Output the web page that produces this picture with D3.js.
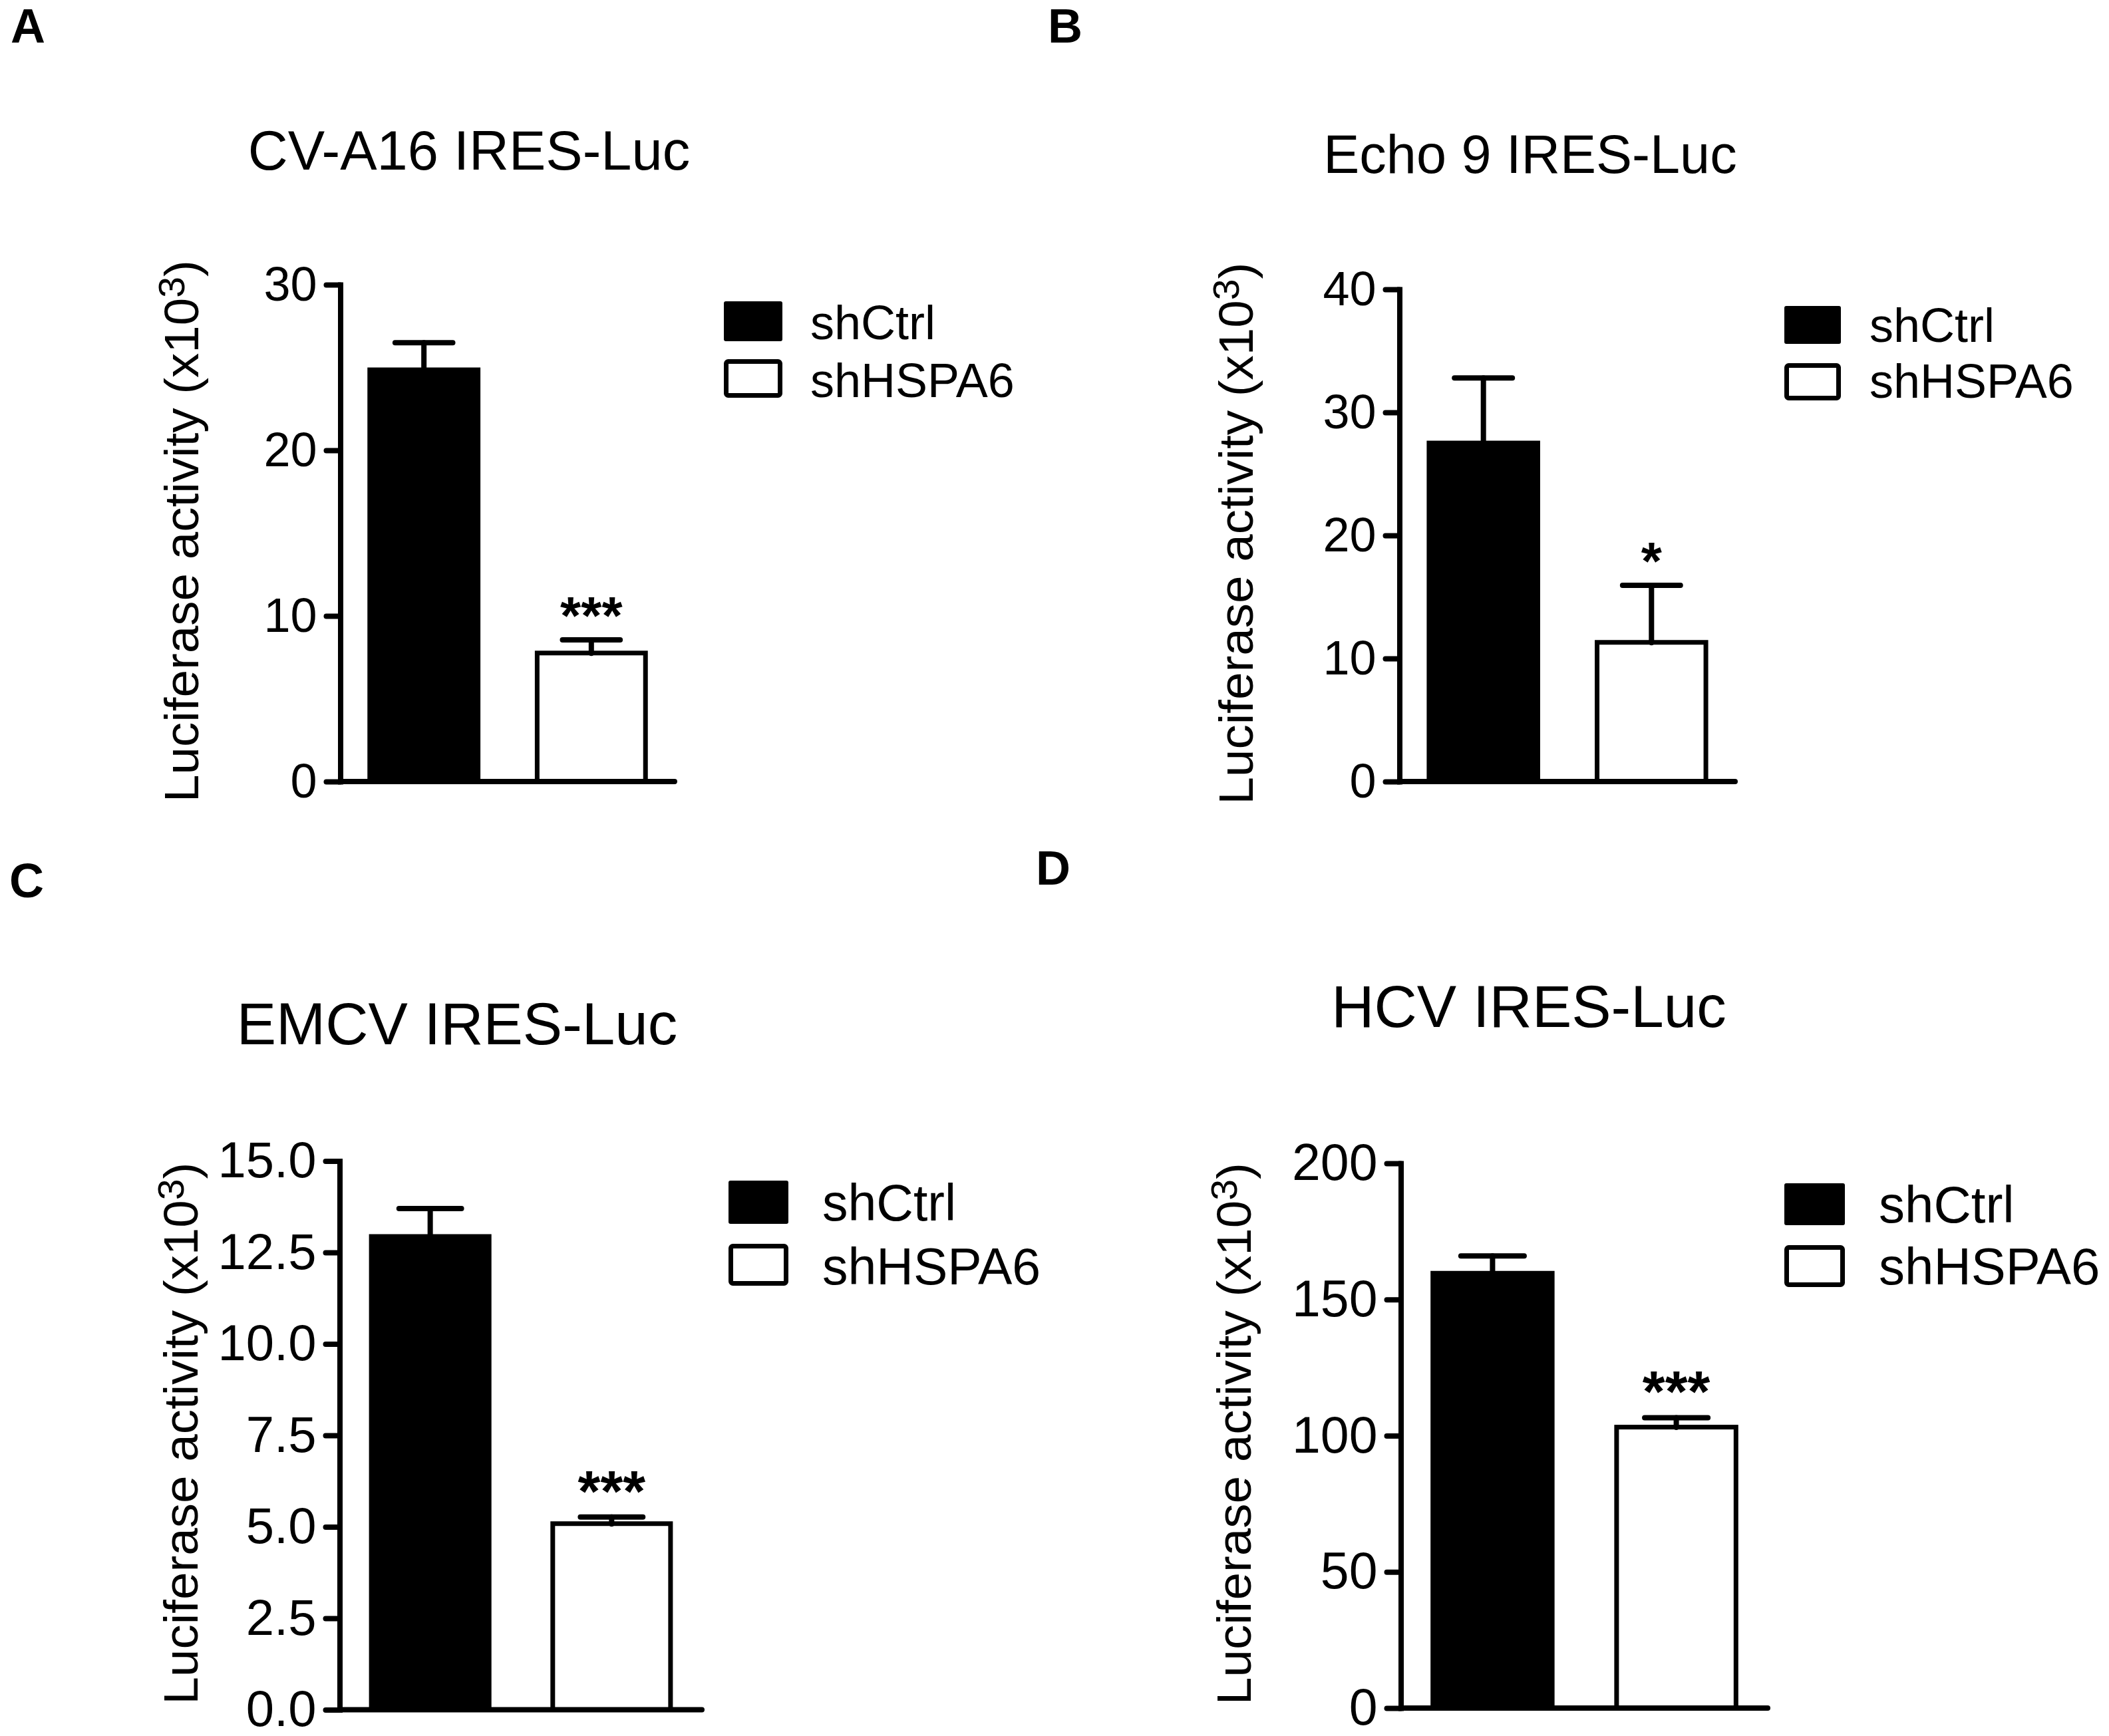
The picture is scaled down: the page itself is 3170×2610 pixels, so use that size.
<!DOCTYPE html>
<html>
<head>
<meta charset="utf-8">
<script src="https://cdn.jsdelivr.net/npm/d3@7"></script>
<style>
body { margin: 0; background: #fff; }
text { font-family: "Liberation Sans", Arial, Helvetica, sans-serif; fill: #000; }
</style>
</head>
<body>
<div id="figure"></div>
<script>
// Data
let groups = ["shCtrl", "shHSPA6"];
let panelLetters = ["A", "B", "C", "D"];
let panelTitles = ["CV-A16 IRES-Luc", "Echo 9 IRES-Luc", "EMCV IRES-Luc", "HCV IRES-Luc"];
let meanValues = [[25.0, 7.9], [27.7, 11.5], [13.0, 5.15], [160.5, 104.0]];
let semValues = [[1.5, 0.65], [5.1, 4.45], [0.7, 0.12], [5.5, 2.6]];
let yTickValues = [
    [0, 10, 20, 30],
    [0, 10, 20, 30, 40],
    [0, 2.5, 5, 7.5, 10, 12.5, 15],
    [0, 50, 100, 150, 200]
];
let tickFormats = ["d", "d", ".1f", "d"];
let significance = ["***", "*", "***", "***"];
let yLabelText = "Luciferase activity (x10";

// Page geometry for each panel
let layout = [
    { letterX: 16, letterY: 64, titleX: 705, titleY: 255, titleSize: 83,
      axisX: 512, xEnd: 1014, yTop: 428, yBottom: 1175, tickSize: 72, labelX: 298,
      legendX: 1088, legendW: 88, legendY: [453, 540], legendH: [60, 58],
      legendTextX: 1218, legendBase: [510, 597], legendSize: 72, starSize: 80 },
    { letterX: 1575, letterY: 64, titleX: 2300, titleY: 260, titleSize: 81,
      axisX: 2104, xEnd: 2608, yTop: 435, yBottom: 1175, tickSize: 72, labelX: 1883,
      legendX: 2682, legendW: 85, legendY: [460, 546], legendH: [57, 56],
      legendTextX: 2810, legendBase: [514, 598], legendSize: 72, starSize: 80 },
    { letterX: 14, letterY: 1349, titleX: 687, titleY: 1570, titleSize: 89,
      axisX: 511, xEnd: 1055, yTop: 1745.5, yBottom: 2570.5, tickSize: 76, labelX: 297,
      legendX: 1095, legendW: 90, legendY: [1775, 1870], legendH: [65, 63],
      legendTextX: 1236, legendBase: [1835, 1931], legendSize: 77, starSize: 87 },
    { letterX: 1557, letterY: 1330, titleX: 2298, titleY: 1544, titleSize: 89,
      axisX: 2106, xEnd: 2657, yTop: 1749, yBottom: 2568, tickSize: 77, labelX: 1880,
      legendX: 2682, legendW: 91, legendY: [1779, 1872], legendH: [63, 63],
      legendTextX: 2824, legendBase: [1838, 1931], legendSize: 78, starSize: 87 }
];

let svgWidth = 3170;
let svgHeight = 2610;
let lineWidth = 8;
let labelLength = 815;

let svg = d3.select("#figure")
    .append("svg")
    .attr("width", svgWidth)
    .attr("height", svgHeight);

svg.append("rect")
    .attr("width", svgWidth)
    .attr("height", svgHeight)
    .attr("fill", "#fff");

layout.forEach((p, i) => {
    let g = svg.append("g");

    // panel letter
    g.append("text")
        .attr("x", p.letterX)
        .attr("y", p.letterY)
        .style("font-size", "72px")
        .style("font-weight", "bold")
        .text(panelLetters[i]);

    // title
    g.append("text")
        .attr("x", p.titleX)
        .attr("y", p.titleY)
        .attr("text-anchor", "middle")
        .style("font-size", p.titleSize + "px")
        .text(panelTitles[i]);

    // scales
    let ticks = yTickValues[i];
    let yScale = d3.scaleLinear()
        .domain([0, d3.max(ticks)])
        .range([p.yBottom, p.yTop]);

    let xScale = d3.scaleBand()
        .domain(groups)
        .range([p.axisX, p.xEnd])
        .paddingInner(0.325)
        .paddingOuter(0.16);

    // bars
    let barData = groups.map((name, j) => ({ name: name, mean: meanValues[i][j], sem: semValues[i][j], idx: j }));
    let inset = d => d.idx === 1 ? 3.5 : 0;

    g.selectAll("rect.bar")
        .data(barData)
        .join("rect")
        .attr("class", "bar")
        .attr("x", d => xScale(d.name) + inset(d))
        .attr("width", d => xScale.bandwidth() - 2 * inset(d))
        .attr("y", d => yScale(d.mean) + inset(d))
        .attr("height", d => p.yBottom - yScale(d.mean) - inset(d))
        .attr("fill", d => d.idx === 0 ? "#000" : "#fff")
        .attr("stroke", d => d.idx === 0 ? "none" : "#000")
        .attr("stroke-width", 7);

    // error bars (upper only)
    let capHalf = xScale.bandwidth() * 0.255;
    let errGroup = g.append("g")
        .attr("stroke", "#000")
        .attr("stroke-width", lineWidth)
        .attr("stroke-linecap", "round");

    errGroup.selectAll("line.stem")
        .data(barData)
        .join("line")
        .attr("class", "stem")
        .attr("x1", d => xScale(d.name) + xScale.bandwidth() / 2)
        .attr("x2", d => xScale(d.name) + xScale.bandwidth() / 2)
        .attr("y1", d => yScale(d.mean) + 4)
        .attr("y2", d => yScale(d.mean + d.sem));

    errGroup.selectAll("line.cap")
        .data(barData)
        .join("line")
        .attr("class", "cap")
        .attr("x1", d => xScale(d.name) + xScale.bandwidth() / 2 - capHalf)
        .attr("x2", d => xScale(d.name) + xScale.bandwidth() / 2 + capHalf)
        .attr("y1", d => yScale(d.mean + d.sem))
        .attr("y2", d => yScale(d.mean + d.sem));

    // significance stars over the knockdown bar
    let kd = barData[1];
    g.append("text")
        .attr("x", xScale(kd.name) + xScale.bandwidth() / 2)
        .attr("y", yScale(kd.mean + kd.sem) - 9)
        .attr("text-anchor", "middle")
        .style("font-size", p.starSize + "px")
        .style("font-weight", "bold")
        .text(significance[i]);

    // y axis
    let leftAxis = d3.axisLeft(yScale)
        .tickValues(ticks)
        .tickSizeInner(21)
        .tickSizeOuter(0)
        .tickPadding(14)
        .tickFormat(d3.format(tickFormats[i]));

    let yAxis = g.append("g")
        .attr("transform", `translate(${p.axisX - 0.5}, 0)`)
        .call(leftAxis);

    yAxis.select(".domain")
        .attr("stroke", "#000")
        .attr("stroke-width", lineWidth)
        .attr("stroke-linecap", "square");
    yAxis.selectAll(".tick line")
        .attr("stroke", "#000")
        .attr("stroke-width", lineWidth)
        .attr("stroke-linecap", "round");
    yAxis.selectAll(".tick text")
        .attr("fill", "#000")
        .style("font-size", p.tickSize + "px")
        .style("font-family", "\"Liberation Sans\", Arial, sans-serif");

    // x axis baseline (no ticks)
    g.append("line")
        .attr("x1", p.axisX)
        .attr("x2", p.xEnd)
        .attr("y1", p.yBottom)
        .attr("y2", p.yBottom)
        .attr("stroke", "#000")
        .attr("stroke-width", lineWidth)
        .attr("stroke-linecap", "round");

    // y axis title, stretched along its length like the original
    let labelCenter = (p.yTop + p.yBottom) / 2 - 3;
    let labelGroup = g.append("g")
        .attr("transform", `translate(${p.labelX}, ${labelCenter}) rotate(-90)`);
    let yLabel = labelGroup.append("text")
        .attr("text-anchor", "middle")
        .style("font-size", "73px");
    yLabel.append("tspan").text(yLabelText);
    yLabel.append("tspan").attr("dy", -21).style("font-size", "56px").text("3");
    yLabel.append("tspan").attr("dy", 21).text(")");
    let natural = yLabel.node().getComputedTextLength();
    yLabel.attr("transform", `scale(${labelLength / natural}, 1)`);

    // legend
    groups.forEach((name, j) => {
        let sw = j === 0 ? 0 : 7;
        g.append("rect")
            .attr("x", p.legendX + sw / 2)
            .attr("y", p.legendY[j] + sw / 2)
            .attr("width", p.legendW - sw)
            .attr("height", p.legendH[j] - sw)
            .attr("rx", 3)
            .attr("fill", j === 0 ? "#000" : "#fff")
            .attr("stroke", j === 0 ? "none" : "#000")
            .attr("stroke-width", sw);
        g.append("text")
            .attr("x", p.legendTextX)
            .attr("y", p.legendBase[j])
            .style("font-size", p.legendSize + "px")
            .text(name);
    });
});
</script>
</body>
</html>
